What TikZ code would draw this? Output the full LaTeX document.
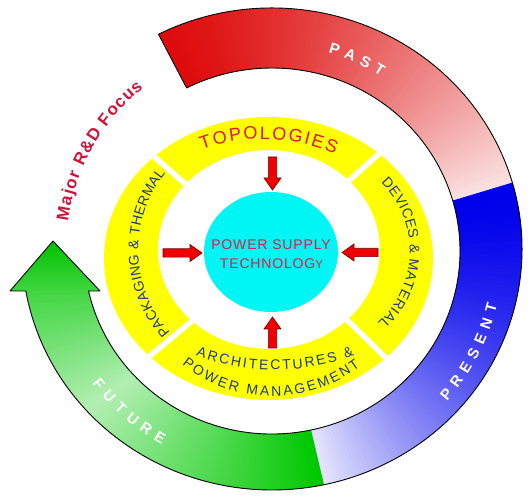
\documentclass[tikz,border=0pt]{standalone}
\usepackage{fontspec}
\setmainfont{Liberation Sans}
\newfontfamily\spacedfont{Liberation Sans}[LetterSpace=6.0]
\usetikzlibrary{decorations.text,shapes.geometric}
\definecolor{pastred}{RGB}{222,12,12}
\definecolor{presblue}{RGB}{0,0,235}
\definecolor{futgreen}{RGB}{0,200,0}
\definecolor{navytxt}{RGB}{28,58,128}
\definecolor{topored}{RGB}{225,20,50}
\definecolor{rdred}{RGB}{205,20,60}
\definecolor{coretxt}{RGB}{220,30,70}
\definecolor{arrowred}{RGB}{240,0,0}
\definecolor{arrowedge}{RGB}{110,0,0}
\definecolor{ringyellow}{RGB}{255,255,0}
\definecolor{corecyan}{RGB}{0,245,245}
\newcommand\fband{\fontsize{15}{18}\selectfont\bfseries\color{white}}
\newcommand\ffocus{\fontsize{17}{20}\selectfont\bfseries\color{rdred}}
\newcommand\ftopo{\fontsize{18}{21}\selectfont\color{topored}}
\newcommand\fnavy{\fontsize{14}{17}\selectfont\color{navytxt}}
\newcommand\redblock[4]{\draw[blockarrow, shift={(#1,#2)}, rotate=#3] (0,-4.2) -- ({#4-12},-4.2) -- ({#4-12},-8.5) -- (#4,0) -- ({#4-12},8.5) -- ({#4-12},4.2) -- (0,4.2) -- cycle;}
\tikzset{
  ringtext/.style={decorate, decoration={text along path, text={#1}, text align=fit to path}},
  blockarrow/.style={fill=arrowred, draw=arrowedge, line width=0.6pt, line join=miter},
  gapline/.style={draw=white, line width=5.5pt},
  ringoutline/.style={draw=black, line width=0.9pt, line join=round},
  coretext/.style={font=\spacedfont\fontsize{14}{16}\selectfont, text=coretxt, inner sep=0pt},
}
\begin{document}
\begin{tikzpicture}[x=1pt,y=1pt]
\useasboundingbox (0,0) rectangle (529,495);
% ---------- outer ring : PAST ----------
\foreach \i in {0,...,100}{
  \pgfmathsetmacro\aa{117-\i}
  \pgfmathsetmacro\ab{117-\i-1.4}
  \pgfmathsetmacro\p{100-88*((\i+0.5)/101)^1.4}
  \fill[pastred!\p!white] ([shift={(272,246)}]\aa:250pt and 241pt) -- ([shift={(272,246)}]\ab:250pt and 241pt) -- ([shift={(272,244)}]\ab:188pt and 183pt) -- ([shift={(272,244)}]\aa:188pt and 183pt) -- cycle;
}
% ---------- PRESENT ----------
\foreach \i in {0,...,93}{
  \pgfmathsetmacro\aa{16-\i}
  \pgfmathsetmacro\ab{16-\i-1.4}
  \pgfmathsetmacro\p{100-90*((\i+0.5)/94)^1.6}
  \fill[presblue!\p!white] ([shift={(272,246)}]\aa:250pt and 241pt) -- ([shift={(272,246)}]\ab:250pt and 241pt) -- ([shift={(272,244)}]\ab:188pt and 183pt) -- ([shift={(272,244)}]\aa:188pt and 183pt) -- cycle;
}
% ---------- FUTURE ----------
\foreach \i in {0,...,91}{
  \pgfmathsetmacro\ua{\i/92}
  \pgfmathsetmacro\ub{min(1,(\i+1.4)/92)}
  \pgfmathsetmacro\oa{-78-91.96*\ua}
  \pgfmathsetmacro\ob{-78-91.96*\ub}
  \pgfmathsetmacro\ia{-78-89.37*\ua}
  \pgfmathsetmacro\ib{-78-89.37*\ub}
  \pgfmathsetmacro\p{(\ua<0.65)?(100-70*\ua/0.65):(30+45*(\ua-0.65)/0.35)}
  \fill[futgreen!\p!white] ([shift={(272,246)}]\oa:250pt and 241pt) -- ([shift={(272,246)}]\ob:250pt and 241pt) -- ([shift={(272,244)}]\ib:188pt and 183pt) -- ([shift={(272,244)}]\ia:188pt and 183pt) -- cycle;
}
\shade[top color=futgreen!96!black, bottom color=futgreen!75!white] (25.8,204) -- (10,204) -- (53,254) -- (100,204) -- (88.5,204) -- cycle;
\draw[ringoutline] ([shift={(272,246)}]117:250pt and 241pt) arc[start angle=117, end angle=-169.96, x radius=250pt, y radius=241pt] -- (10,204) -- (53,254) -- (100,204) -- ([shift={(272,244)}]-167.37:188pt and 183pt) arc[start angle=-167.37, end angle=117, x radius=188pt, y radius=183pt] -- cycle;
% ring labels
\path[ringtext={|\fband|PAST}] ([shift={(272,246)}]74:204pt) arc[start angle=74, end angle=57.7, radius=204pt];
\path[ringtext={|\fband|PRESENT}] ([shift={(272,246)}]-41:232pt) arc[start angle=-41, end angle=-14, radius=232pt];
\path[ringtext={|\fband|FUTURE}] ([shift={(272,246)}]216.8:224.5pt) arc[start angle=216.8, end angle=240.6, radius=224.5pt];
\path[ringtext={|\ffocus|Major R{\&}D Focus}] ([shift={(272,246)}]172.2:206pt) arc[start angle=172.2, end angle=128.6, radius=206pt];
% ---------- yellow ring ----------
\fill[ringyellow, even odd rule] (268.5,236.5) ellipse[x radius=164.5pt, y radius=141.5pt] (269,245.5) ellipse[x radius=111pt, y radius=99.5pt];
\draw[gapline] (143,348) -- (190,307);
\draw[gapline] (390,351) -- (343,309);
\draw[gapline] (146,136) -- (192,174);
\draw[gapline] (390,133) -- (345,177);
\path[ringtext={|\ftopo|TOPOLOGIES}] ([shift={(262.2,176.4)}]109.6:179.5pt) arc[start angle=109.6, end angle=66.1, radius=179.5pt];
\path[ringtext={|\fnavy|PACKAGING {\&} THERMAL}] ([shift={(261.3,245)}]222.2:123pt) arc[start angle=222.2, end angle=141.2, radius=123pt];
\path[ringtext={|\fnavy|DEVICES {\&} MATERIAL}] ([shift={(313.6,244)}]45.6:96.2pt) arc[start angle=45.6, end angle=-48.3, radius=96.2pt];
\path[ringtext={|\fnavy|ARCHITECTURES {\&}}] ([shift={(275,349)}]249.3:224pt) arc[start angle=249.3, end angle=290.7, radius=224pt];
\path[ringtext={|\fnavy|POWER MANAGEMENT}] ([shift={(272,243.5)}]231.6:144.7pt) arc[start angle=231.6, end angle=307.6, radius=144.7pt];
% ---------- core ----------
\node[ellipse, fill=corecyan, minimum width=134pt, minimum height=120pt, inner sep=0pt] (core) at (271,243) {};
\node[coretext] (line1) at (271,250) {POWER SUPPLY};
\node[coretext] (line2) at (271.5,231.5) {TECHNOLOG{\fontsize{11.5}{13}\selectfont Y}};
% ---------- red arrows ----------
\redblock{272.5}{338}{-90}{33}
\redblock{272.5}{147}{90}{31}
\redblock{163}{242}{0}{39}
\redblock{378}{242.5}{180}{36}
\end{tikzpicture}
\end{document}
